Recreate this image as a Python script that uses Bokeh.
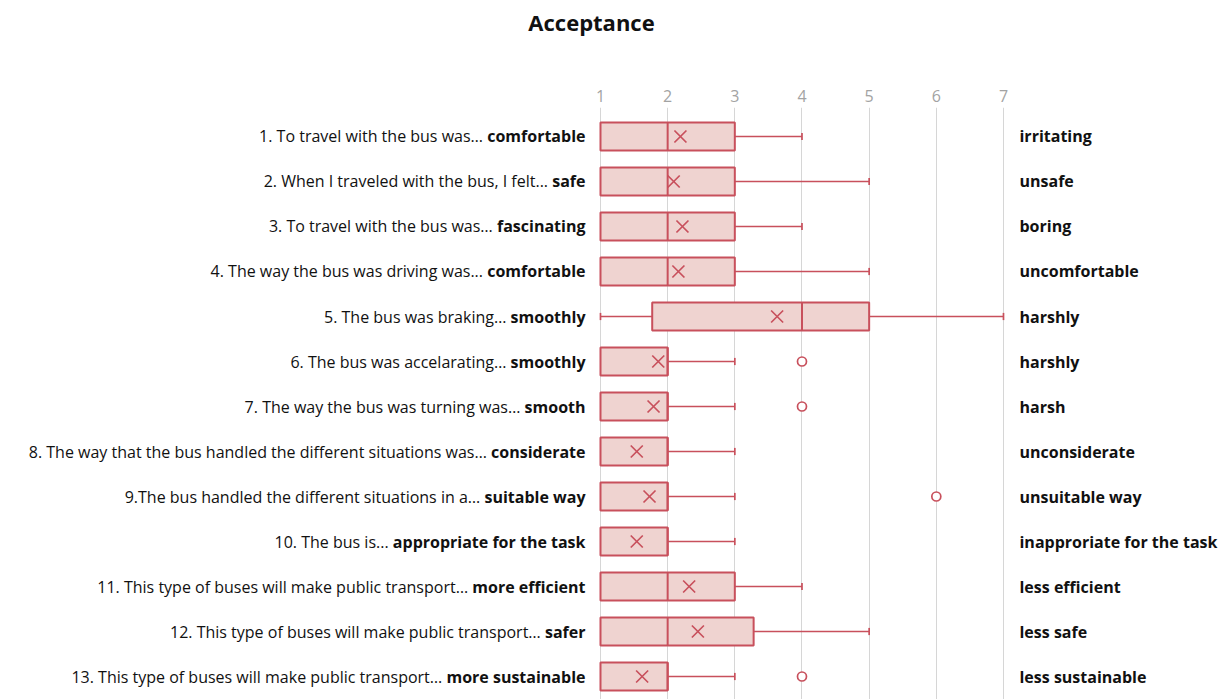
import subprocess
from bokeh.plotting import figure
from bokeh.layouts import column
from bokeh.models import ColumnDataSource, Range1d, FixedTicker
from bokeh.transform import dodge
from bokeh.core.properties import value
from bokeh.embed import file_html
from bokeh.resources import INLINE

# ---------------- data ----------------
title_text = "Acceptance"
tick_values = [1, 2, 3, 4, 5, 6, 7]
rows = list(range(1, 14))
question_regular = [
    "1. To travel with the bus was\u2026",
    "2. When I traveled with the bus, I felt...",
    "3. To travel with the bus was\u2026",
    "4. The way the bus was driving was...",
    "5. The bus was braking\u2026",
    "6. The bus was accelarating\u2026",
    "7. The way the bus was turning was\u2026",
    "8. The way that the bus handled the different situations was\u2026",
    "9.The bus handled the different situations in a\u2026",
    "10. The bus is...",
    "11. This type of buses will make public transport\u2026",
    "12. This type of buses will make public transport\u2026",
    "13. This type of buses will make public transport\u2026",
]
question_bold = [
    "comfortable", "safe", "fascinating", "comfortable", "smoothly", "smoothly",
    "smooth", "considerate", "suitable way", "appropriate for the task",
    "more efficient", "safer", "more sustainable",
]
opposite_label = [
    "irritating", "unsafe", "boring", "uncomfortable", "harshly", "harshly",
    "harsh", "unconsiderate", "unsuitable way", "inapproriate for the task",
    "less efficient", "less safe", "less sustainable",
]
lower_whisker = [1, 1, 1, 1, 1, 1, 1, 1, 1, 1, 1, 1, 1]
q1 = [1, 1, 1, 1, 1.77, 1, 1, 1, 1, 1, 1, 1, 1]
median = [2, 2, 2, 2, 4, 2, 2, 2, 2, 2, 2, 2, 2]
q3 = [3, 3, 3, 3, 5, 2, 2, 2, 2, 2, 3, 3.28, 2]
upper_whisker = [4, 5, 4, 5, 7, 3, 3, 3, 3, 3, 4, 5, 3]
mean = [2.19, 2.09, 2.22, 2.16, 3.63, 1.86, 1.79, 1.54, 1.73, 1.54, 2.32, 2.45, 1.62]
outlier_row = [6, 7, 9, 13]
outlier_value = [4, 4, 6, 4]

# ---------------- styles ----------------
FONT = "Open Sans"
LABEL_SIZE = 16
RED = "#c8505c"
FILL = "#efd3d0"
GRID = "#d6d6d6"


def _font_file(family, bold):
    try:
        out = subprocess.run(
            ["fc-match", "-f", "%{file}", f"{family}:{'bold' if bold else 'regular'}"],
            capture_output=True, text=True, timeout=5).stdout.strip()
        return out or None
    except Exception:
        return None


def measure(texts, family, size, bold):
    path = _font_file(family, bold)
    if path:
        try:
            from PIL import ImageFont
            f = ImageFont.truetype(path, size)
            try:
                axes = f.get_variation_axes()
                vals = []
                for a in axes:
                    nm = a.get("name", b"")
                    if isinstance(nm, bytes):
                        nm = nm.decode("latin-1", "ignore")
                    if "eight" in str(nm) or "wght" in str(nm):
                        vals.append(700 if bold else 400)
                    else:
                        vals.append(a.get("default", a.get("minimum")))
                if vals:
                    f.set_variation_by_axes(vals)
            except Exception:
                pass
            return [f.getlength(t) for t in texts]
        except Exception:
            pass
    k = 0.6 if bold else 0.53
    return [len(t) * size * k for t in texts]


bold_w = measure(question_bold, FONT, LABEL_SIZE, True)
space_w = measure([" "], FONT, LABEL_SIZE, False)[0]
LEFT_GAP = 15
bold_offsets = [-LEFT_GAP] * len(rows)
regular_offsets = [-LEFT_GAP - w - space_w for w in bold_w]

W, H = 1220, 699
TITLE_H = 50

# ---- title strip ----
t = figure(width=W, height=TITLE_H, output_backend="svg", toolbar_location=None,
           x_axis_location=None, y_axis_location=None,
           x_range=Range1d(0, W), y_range=Range1d(TITLE_H, 0),
           min_border=0)
t.outline_line_color = None
t.grid.visible = False
t.text(x=[591], y=[21], text=[title_text], text_font=value(FONT), text_font_size="22px",
       text_font_style="bold", text_color="#111111", text_align="center",
       text_baseline="middle")

# ---- main chart ----
p = figure(width=W, height=H - TITLE_H, output_backend="svg", toolbar_location=None,
           x_axis_location="above", y_axis_location=None,
           x_range=Range1d(-7.933, 10.231), y_range=Range1d(13.511, 0.3556),
           min_border_left=0, min_border_right=0, min_border_bottom=0,
           min_border_top=107 - TITLE_H)
p.outline_line_color = None
p.background_fill_color = "white"
p.border_fill_color = "white"

ax = p.xaxis[0]
ax.ticker = FixedTicker(ticks=tick_values)
ax.axis_line_color = None
ax.major_tick_line_color = None
ax.minor_tick_line_color = None
ax.major_label_text_font = FONT
ax.major_label_text_font_size = "16px"
ax.major_label_text_color = "#a3a3a3"
ax.major_label_standoff = 0
p.xgrid.grid_line_color = GRID
p.xgrid.grid_line_width = 1
p.ygrid.visible = False

src = ColumnDataSource(dict(
    y=rows, low=lower_whisker, q1=q1, med=median, q3=q3, up=upper_whisker, mean=mean,
    reg=question_regular, bold=question_bold, opp=opposite_label,
    reg_off=regular_offsets, bold_off=bold_offsets,
    one=[tick_values[0]] * len(rows), seven=[tick_values[-1]] * len(rows),
))

low_idx = [i for i in range(len(rows)) if lower_whisker[i] < q1[i]]
low_src = ColumnDataSource(dict(
    y=[rows[i] for i in low_idx],
    low=[lower_whisker[i] for i in low_idx],
    q1=[q1[i] for i in low_idx],
))

CAP = 0.08
HALF = 0.31
# whiskers
p.segment(x0="q3", y0="y", x1="up", y1="y", source=src, line_color=RED, line_width=1.7)
p.segment(x0="up", y0=dodge("y", -CAP), x1="up", y1=dodge("y", CAP), source=src,
          line_color=RED, line_width=1.7)
p.segment(x0="low", y0="y", x1="q1", y1="y", source=low_src, line_color=RED, line_width=1.7)
p.segment(x0="low", y0=dodge("y", -CAP), x1="low", y1=dodge("y", CAP), source=low_src,
          line_color=RED, line_width=1.7)
# boxes
p.hbar(y="y", left="q1", right="q3", height=2 * HALF, source=src,
       fill_color=FILL, line_color=RED, line_width=2)
p.segment(x0="med", y0=dodge("y", -HALF), x1="med", y1=dodge("y", HALF), source=src,
          line_color=RED, line_width=2)
# means
p.scatter(x="mean", y="y", source=src, marker="x", size=17, line_color=RED, line_width=1.7)
# outliers
p.scatter(x=outlier_value, y=outlier_row, marker="circle", size=9,
          fill_color="white", line_color=RED, line_width=1.7)

# left labels (regular + bold part)
p.text(x="one", y="y", text="reg", x_offset="reg_off", source=src,
       text_font=value(FONT), text_font_size=f"{LABEL_SIZE}px", text_color="#111111",
       text_align="right", text_baseline="middle")
p.text(x="one", y="y", text="bold", x_offset="bold_off", source=src,
       text_font=value(FONT), text_font_size=f"{LABEL_SIZE}px", text_font_style="bold",
       text_color="#111111", text_align="right", text_baseline="middle")
# right labels
p.text(x="seven", y="y", text="opp", x_offset=16, source=src,
       text_font=value(FONT), text_font_size=f"{LABEL_SIZE}px", text_font_style="bold",
       text_color="#111111", text_align="left", text_baseline="middle")

layout = column(t, p, spacing=0)
open("out.html", "w").write(file_html(layout, INLINE))
